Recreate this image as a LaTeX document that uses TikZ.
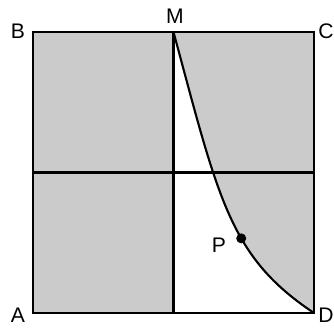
\documentclass[tikz,border=0pt]{standalone}
\usepackage{fontspec}
\setmainfont{Liberation Sans}
\usepackage{tikz}

\definecolor{regiongray}{RGB}{203,203,203}

\tikzset{
  edge/.style={line width=2.4pt},
  arc/.style={line width=1.8pt},
  lbl/.style={font=\fontsize{18}{20}\selectfont, inner sep=0pt},
}

\begin{document}
\begin{tikzpicture}[x=0.03cm, y=0.03cm]
  \useasboundingbox (0,0) rectangle (334,327);
  \coordinate (A) at (33, 14);
  \coordinate (B) at (33, 295);
  \coordinate (C) at (314, 295);
  \coordinate (D) at (314, 14);
  \coordinate (M) at (173.5, 295);
  \coordinate (N) at (173.5, 14);
  \coordinate (L) at (33, 154.5);
  \coordinate (R) at (314, 154.5);
  \coordinate (c1) at (219, 126.4);
  \coordinate (c2) at (229.7, 70.2);
  \fill[regiongray] (A) rectangle (C);
  \fill[white] (M) -- (N) -- (D) .. controls (c2) and (c1) .. (M) -- cycle;
  \draw[edge] (L) -- (R);
  \draw[edge] (M) -- (N);
  \draw[arc] (M) .. controls (c1) and (c2) .. (D)
    coordinate[pos=0.6] (P);
  \draw[edge] (A) -- (B) -- (C) -- (D) -- cycle;
  \fill (P) circle (5);
  \node[lbl] (labelM) at (175, 311) {M};
  \node[lbl] (labelB) at (18, 296) {B};
  \node[lbl] (labelC) at (326, 296) {C};
  \node[lbl] (labelA) at (18, 12) {A};
  \node[lbl] (labelD) at (326, 12) {D};
  \node[lbl] (labelP) at (219, 82) {P};
\end{tikzpicture}
\end{document}
